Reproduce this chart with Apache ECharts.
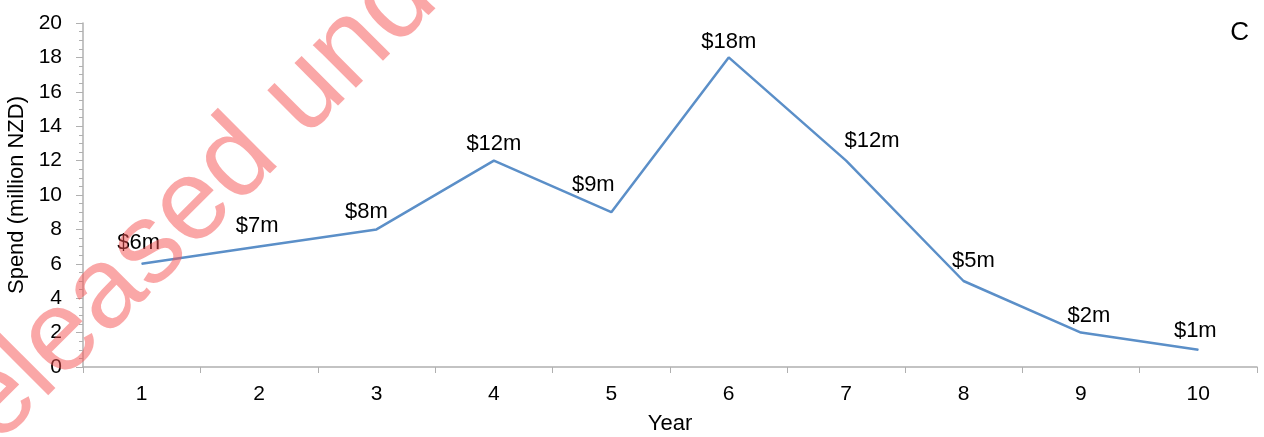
<!DOCTYPE html>
<html lang="en">
<head>
    <meta charset="utf-8">
    <title>Spend by year</title>
    <script type="text/javascript" src="https://cdn.jsdelivr.net/npm/echarts@6/dist/echarts.min.js"></script>
    <style>
        html, body { margin: 0; padding: 0; background: #fff; }
    </style>
</head>
<body>
<div id="main" style="width: 1264px;height:437px;"></div>
<script>
    // data
    var years = ['1', '2', '3', '4', '5', '6', '7', '8', '9', '10'];
    var spend = [6, 7, 8, 12, 9, 18, 12, 5, 2, 1];
    var spendLabels = ['$6m', '$7m', '$8m', '$12m', '$9m', '$18m', '$12m', '$5m', '$2m', '$1m'];

    // label nudges (x, y) so they sit like in the original
    var labelNudge = [[-3, 0], [-2, 0], [-10, 3], [0, 4], [-18, -7], [0, 5], [26, 1], [10, 0], [8, 4], [-3, 2]];

    var font = 'Liberation Sans, Arial, sans-serif';
    var myChart = echarts.init(document.getElementById('main'));

    var option = {
        animation: false,
        textStyle: { fontFamily: font },
        grid: { left: 83, right: 7, top: 23, bottom: 70, outerBoundsMode: 'none', containLabel: false },
        xAxis: {
            type: 'category',
            data: years,
            boundaryGap: true,
            name: 'Year',
            nameLocation: 'middle',
            nameGap: 46,
            nameTextStyle: { color: '#000', fontSize: 22, fontFamily: font },
            axisLine: { lineStyle: { color: '#b0b0b0', width: 1.5 } },
            axisTick: { show: true, inside: false, length: 6, lineStyle: { color: '#b0b0b0' } },
            axisLabel: { color: '#000', fontSize: 21, margin: 17, fontFamily: font }
        },
        yAxis: {
            type: 'value',
            min: 0,
            max: 20,
            interval: 2,
            name: 'Spend (million NZD)',
            nameLocation: 'middle',
            nameGap: 52,
            nameRotate: 90,
            nameTextStyle: { color: '#000', fontSize: 22, fontFamily: font },
            splitLine: { show: false },
            axisLine: { show: true, lineStyle: { color: '#b0b0b0', width: 1.5 } },
            axisTick: { show: true, length: 7, lineStyle: { color: '#b0b0b0' } },
            minorTick: { show: true, splitNumber: 4, length: 4, lineStyle: { color: '#b0b0b0' } },
            axisLabel: { color: '#000', fontSize: 21, margin: 21, fontFamily: font }
        },
        graphic: [
            {
                type: 'text',
                right: 15,
                top: 20,
                style: { text: 'C', fill: '#000', fontSize: 26, fontFamily: font }
            },
            {
                // watermark stamped across the scan
                type: 'text',
                x: -43,
                y: 523,
                rotation: Math.PI / 4,
                z: 100,
                style: {
                    text: 'Released under the Official Information Act',
                    fill: 'rgba(245, 80, 80, 0.5)',
                    fontSize: 115,
                    fontFamily: font,
                    textAlign: 'left',
                    textVerticalAlign: 'bottom'
                }
            }
        ],
        series: [
            {
                name: 'Spend',
                type: 'line',
                data: spend.map(function (v, i) {
                    return {
                        value: v,
                        label: { offset: labelNudge[i] }
                    };
                }),
                symbol: 'circle',
                symbolSize: 1,
                showSymbol: true,
                lineStyle: { color: '#5b8fc8', width: 2.5 },
                itemStyle: { color: '#5b8fc8' },
                label: {
                    show: true,
                    position: 'top',
                    distance: 9,
                    color: '#000',
                    fontSize: 22,
                    fontFamily: font,
                    formatter: function (p) { return spendLabels[p.dataIndex]; }
                }
            }
        ]
    };
    myChart.setOption(option);
</script>
</body>
</html>
